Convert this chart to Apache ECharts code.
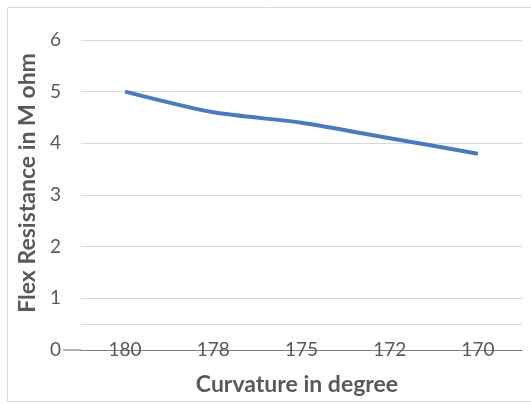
<!DOCTYPE html>
<html>
<head>
<meta charset="utf-8">
<script src="https://cdn.jsdelivr.net/npm/echarts@6/dist/echarts.min.js"></script>
<style>
html,body{margin:0;padding:0;background:#fff;}
#c{width:531px;height:405px;}
</style>
</head>
<body>
<div id="c"></div>
<script>
const categories = ['180', '178', '175', '172', '170'];
const resistance = [5.0, 4.6, 4.4, 4.1, 3.8];
const yTicks = [0, 1, 2, 3, 4, 5, 6];
const extraGridValue = 0.5;

const chart = echarts.init(document.getElementById('c'));
const font = 'Lato, "Open Sans", sans-serif';
chart.setOption({
  backgroundColor: '#fff',
  animation: false,
  grid: { left: 81, right: 9, top: 40, bottom: 55 },
  xAxis: {
    type: 'category',
    data: categories,
    boundaryGap: true,
    name: 'Curvature in degree',
    nameLocation: 'middle',
    nameGap: 23,
    nameTextStyle: { fontFamily: font, fontSize: 23, fontWeight: 'bold', color: '#595959', padding: [0, 9, 0, 0] },
    axisLine: { show: true, lineStyle: { color: '#7f7f7f', width: 1.2 } },
    axisTick: { show: false },
    axisLabel: { margin: -10, fontFamily: font, fontSize: 19, color: '#595959' },
    splitLine: { show: false }
  },
  yAxis: {
    type: 'value',
    min: yTicks[0],
    max: yTicks[yTicks.length - 1],
    interval: 1,
    name: 'Flex Resistance in M ohm',
    nameLocation: 'middle',
    nameGap: 39,
    nameTextStyle: { fontFamily: font, fontSize: 23, fontWeight: 'bold', color: '#595959', padding: [0, 0, 0, 24] },
    axisLine: { show: false },
    axisTick: { show: false },
    axisLabel: { margin: 20, fontFamily: font, fontSize: 19, color: '#595959' },
    splitLine: { show: true, lineStyle: { color: '#d9d9d9', width: 1 } }
  },
  series: [{
    type: 'line',
    data: resistance,
    smooth: 0.25,
    symbol: 'none',
    lineStyle: { color: '#4a7bbf', width: 4 },
    itemStyle: { color: '#4a7bbf' },
    markLine: {
      silent: true,
      symbol: 'none',
      label: { show: false },
      lineStyle: { color: '#d9d9d9', type: 'solid', width: 1 },
      data: [{ yAxis: extraGridValue }]
    }
  }]
});

// chart border and short left extension of the baseline
const y0 = chart.convertToPixel({ yAxisIndex: 0 }, 0);
chart.setOption({
  graphic: [
    { type: 'rect', shape: { x: 7.5, y: 7.5, width: 530, height: 394 }, style: { fill: 'none', stroke: '#d9d9d9', lineWidth: 1 }, silent: true },
    { type: 'line', shape: { x1: 63, y1: y0, x2: 81, y2: y0 }, style: { stroke: '#7f7f7f', lineWidth: 1.2 }, silent: true }
  ]
});
</script>
</body>
</html>
